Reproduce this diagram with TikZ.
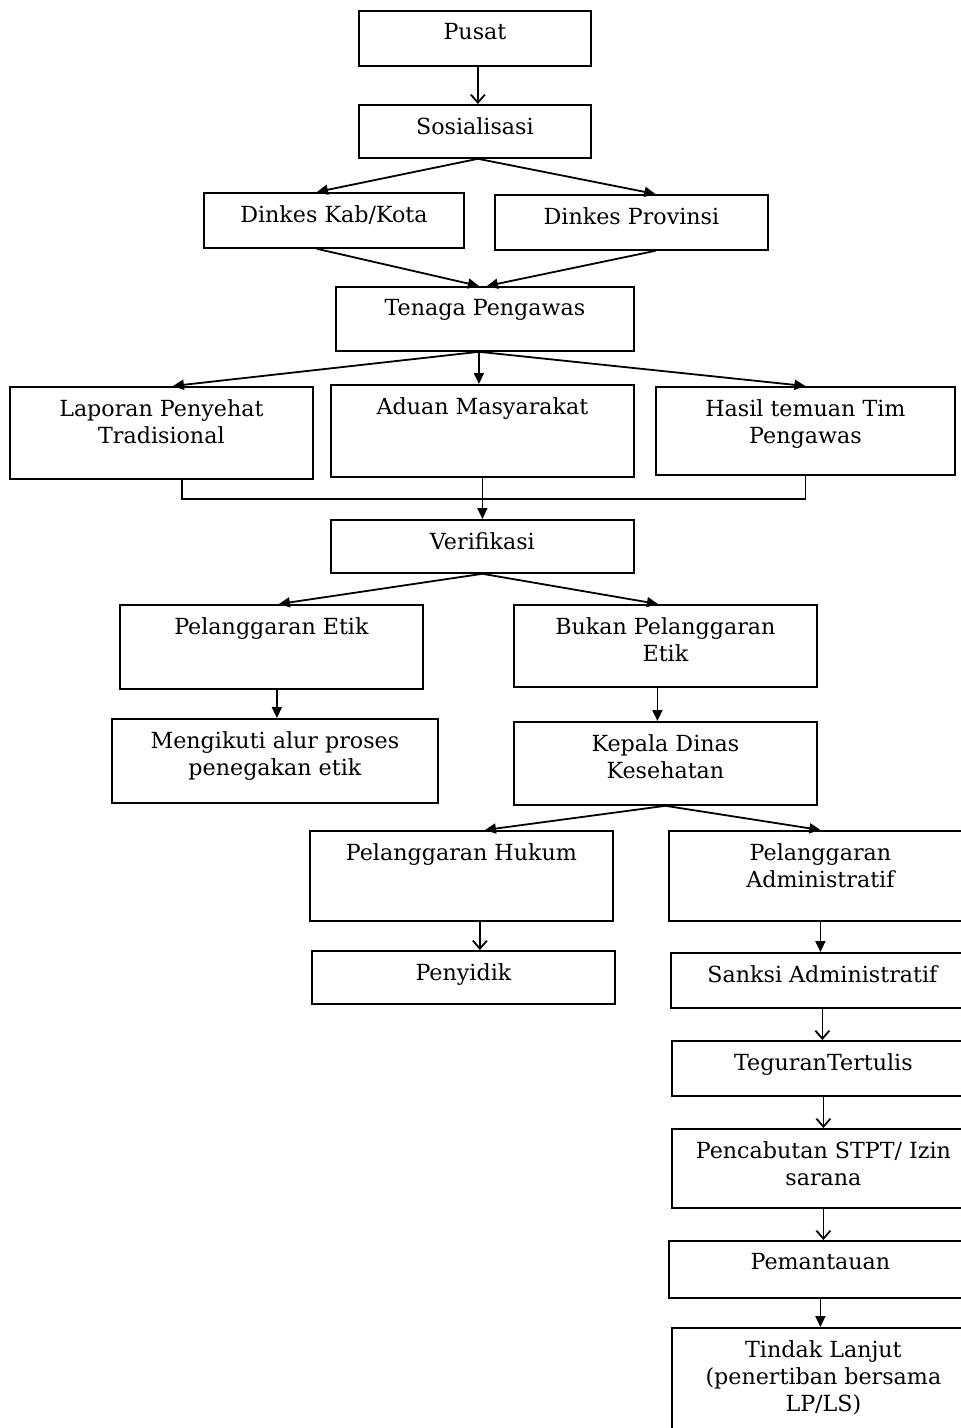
\documentclass[tikz,border=0pt]{standalone}
\usepackage{fontspec}
\setmainfont{DejaVu Serif}
\usetikzlibrary{positioning, arrows.meta}

\begin{document}
\begin{tikzpicture}[
  x=0.5pt, y=-0.5pt,
  mybox/.style 2 args={rectangle, draw, line width=0.9pt, anchor=north west,
    minimum width=#1*0.5pt, minimum height=#2*0.5pt, inner sep=0pt},
  boxtext/.style={anchor=north, yshift=-3.2pt, align=center,
    font=\fontsize{11.1}{13.6}\selectfont},
  arrow/.style={-{Triangle[length=5.5pt, width=5pt]}, line width=0.9pt},
  openarrow/.style={-{Straight Barb[length=4pt, width=7pt]}, line width=0.9pt}
]
\useasboundingbox (0,0) rectangle (961,1428);

% Top nodes
\node[mybox={232}{55}, label={[boxtext]north:Pusat}] (pusat) at (358,10) {};
\node[mybox={232}{53}, label={[boxtext]north:Sosialisasi}] (sosial) at (358,104) {};
\node[mybox={260}{55}, label={[boxtext]north:Dinkes Kab/Kota}] (dinkab) at (203,192) {};
\node[mybox={273}{55}, label={[boxtext]north:Dinkes Provinsi}] (dinprov) at (494,194) {};
\node[mybox={298}{64}, label={[boxtext]north:Tenaga Pengawas}] (tenaga) at (335,286) {};

% Sources
\node[mybox={303}{92}, label={[boxtext]north:Laporan Penyehat\\Tradisional}] (laporan) at (9,386) {};
\node[mybox={303}{92}, label={[boxtext]north:Aduan Masyarakat}] (aduan) at (330,384) {};
\node[mybox={299}{88}, label={[boxtext]north:Hasil temuan Tim\\Pengawas}] (hasil) at (655,386) {};
\node[mybox={303}{53}, label={[boxtext]north:Verifikasi}] (verif) at (330,519) {};

% Etik branch
\node[mybox={303}{84}, label={[boxtext]north:Pelanggaran Etik}] (etik) at (119,604) {};
\node[mybox={303}{82}, label={[boxtext]north:Bukan Pelanggaran\\Etik}] (bukan) at (513,604) {};
\node[mybox={326}{84}, label={[boxtext]north:Mengikuti alur proses\\penegakan etik}] (ikuti) at (111,718) {};
\node[mybox={303}{83}, label={[boxtext]north:Kepala Dinas\\Kesehatan}] (kadin) at (513,721) {};

% Hukum and administratif
\node[mybox={303}{90}, label={[boxtext]north:Pelanggaran Hukum}] (hukum) at (309,830) {};
\node[mybox={303}{90}, label={[boxtext]north:Pelanggaran\\Administratif}] (admin) at (668,830) {};
\node[mybox={303}{53}, label={[boxtext]north:Penyidik}] (sidik) at (311,950) {};
\node[mybox={303}{55}, label={[boxtext]north:Sanksi Administratif}] (sanksi) at (670,952) {};
\node[mybox={303}{55}, label={[boxtext]north:TeguranTertulis}] (teguran) at (671,1040) {};
\node[mybox={303}{79}, label={[boxtext]north:Pencabutan STPT/ Izin\\sarana}] (cabut) at (671,1128) {};
\node[mybox={303}{57}, label={[boxtext]north:Pemantauan}] (pantau) at (668,1240) {};
\node[mybox={303}{120}, label={[boxtext]north:Tindak Lanjut\\(penertiban bersama\\LP/LS)}] (lanjut) at (671,1327) {};

% Arrows
\draw[openarrow] ([xshift=1.5pt]pusat.south) -- ([xshift=1.5pt]sosial.north);
\draw[arrow] ([xshift=1.5pt]sosial.south) -- ([xshift=-8.5pt]dinkab.north);
\draw[arrow] ([xshift=1.5pt]sosial.south) -- ([xshift=12pt]dinprov.north);
\draw[arrow] ([xshift=-8.5pt]dinkab.south) -- ([xshift=-3pt]tenaga.north);
\draw[arrow] ([xshift=12pt]dinprov.south) -- ([xshift=1pt]tenaga.north);
\coordinate (fan) at ([xshift=-3pt]tenaga.south);
\draw[arrow] (fan) -- ([xshift=5.75pt]laporan.north);
\draw[arrow] (fan) -- (fan |- aduan.north);
\draw[arrow] (fan) -- (hasil.north);
\coordinate (merge) at ([yshift=-10.5pt]aduan.south);
\draw[line width=0.9pt] ([xshift=10.25pt]laporan.south) |- (merge) -| (hasil.south);
\draw[arrow] (aduan.south) -- (verif.north);
\draw[arrow] (verif.south) -- ([xshift=3.75pt]etik.north);
\draw[arrow] (verif.south) -- ([xshift=-3.75pt]bukan.north);
\draw[arrow] ([xshift=2.75pt]etik.south) -- ([xshift=2.75pt]etik.south |- ikuti.north);
\draw[arrow] ([xshift=-4pt]bukan.south) -- ([xshift=-4pt]kadin.north);
\draw[arrow] (kadin.south) -- ([xshift=11.75pt]hukum.north);
\draw[arrow] (kadin.south) -- (admin.north);
\draw[openarrow] ([xshift=9.25pt]hukum.south) -- ([xshift=9.25pt]hukum.south |- sidik.north);
\draw[arrow] (admin.south) -- (admin.south |- sanksi.north);
\draw[openarrow] (sanksi.south) -- (sanksi.south |- teguran.north);
\draw[openarrow] (teguran.south) -- (teguran.south |- cabut.north);
\draw[openarrow] (cabut.south) -- (cabut.south |- pantau.north);
\draw[arrow] (pantau.south) -- (pantau.south |- lanjut.north);

\end{tikzpicture}
\end{document}
